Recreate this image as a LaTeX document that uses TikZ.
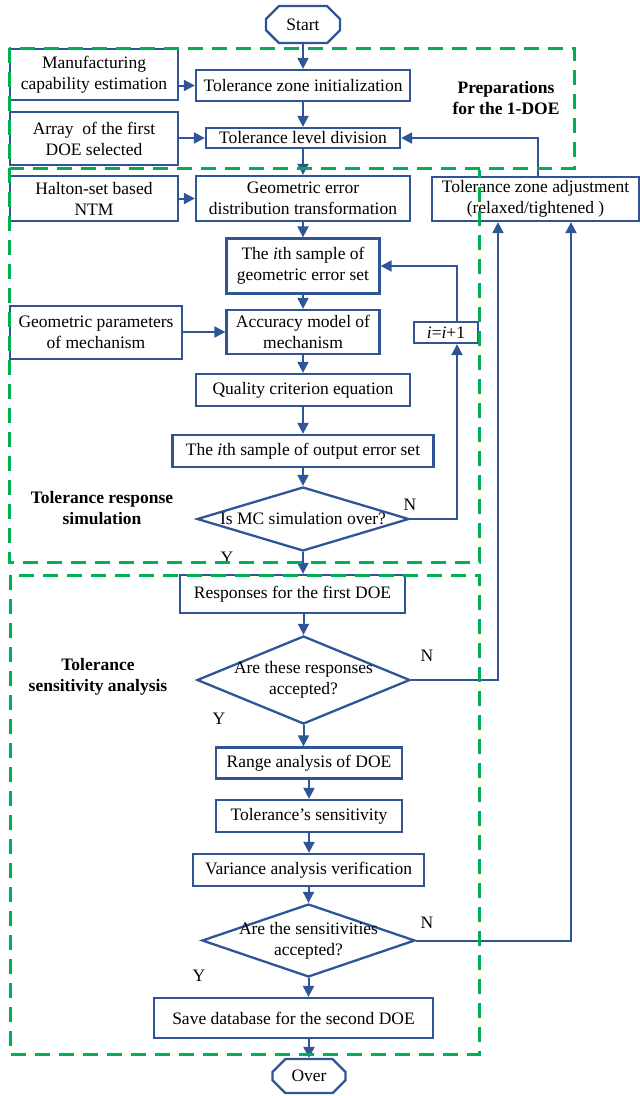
\documentclass[tikz,border=0pt]{standalone}
\usepackage{fontspec}
\setmainfont{Liberation Serif}
\usetikzlibrary{arrows.meta,shapes.geometric,shapes.misc}
\definecolor{fb}{HTML}{2F5597}
\definecolor{gd}{HTML}{00B050}
\begin{document}
\begin{tikzpicture}[x=1pt,y=-1pt,
  font=\fontsize{17.5}{21}\selectfont,
  box/.style={draw=fb, line width=2.3pt, fill=white, inner sep=0pt, align=center, text=black},
  dia/.style={draw=fb, line width=2.3pt, fill=white, diamond, inner sep=0pt},
  term/.style={draw=fb, line width=2.3pt, fill=white, chamfered rectangle,
    chamfered rectangle xsep=7pt, chamfered rectangle ysep=7pt, inner sep=0pt},
  arr/.style={draw=fb, line width=2pt, -{Triangle[length=11pt,width=11pt]}},
  grp/.style={draw=gd, line width=3pt, dash pattern=on 15pt off 9pt},
  lab/.style={font=\fontsize{17.5}{21}\selectfont\bfseries, align=center},
  yn/.style={font=\fontsize{17.5}{21}\selectfont},
]
\useasboundingbox (0,0) rectangle (640,1096);

% ---------- nodes ----------
\node[term, minimum width=74pt, minimum height=37pt] (start) at (303,24.5) {Start};
\node[box, minimum width=168pt, minimum height=51pt] (manu) at (94,74.5) {Manufacturing\\capability estimation};
\node[box, minimum width=214pt, minimum height=31pt] (tzi) at (303,85.5) {Tolerance zone initialization};
\node[box, minimum width=168pt, minimum height=53pt] (array) at (94,138.5) {Array\ \ of the first\\DOE selected};
\node[box, minimum width=194pt, minimum height=20pt] (tld) at (303,138) {Tolerance level division};
\node[box, minimum width=168pt, minimum height=45pt] (halton) at (94,198.5) {Halton-set based\\NTM};
\node[box, minimum width=214pt, minimum height=45pt] (gedt) at (303,198.5) {Geometric error\\distribution transformation};
\node[box, minimum width=207pt, minimum height=44pt] (tza) at (535.5,199) {Tolerance zone adjustment\\(relaxed/tightened )};
\node[box, minimum width=153pt, minimum height=55pt] (sample) at (303,266) {The \textit{i}th sample of\\geometric error set};
\node[box, minimum width=172pt, minimum height=53pt] (gp) at (96,332.5) {Geometric parameters\\of mechanism};
\node[box, minimum width=153pt, minimum height=44pt] (acc) at (303,332) {Accuracy model of\\mechanism};
\node[box, minimum width=64pt, minimum height=21pt] (inc) at (446,332.5) {\textit{i}=\textit{i}+1};
\node[box, minimum width=214pt, minimum height=32pt] (qce) at (303,390) {Quality criterion equation};
\node[box, minimum width=261pt, minimum height=32pt] (out) at (303,451) {The \textit{i}th sample of output error set};
\node[dia, minimum width=212pt, minimum height=64pt,
  label={[yn]center:Is MC simulation over?}] (d1) at (303,519) {};
\node[box, minimum width=225pt, minimum height=38pt] (resp) at (292.5,594) {Responses for the first DOE};
\node[dia, minimum width=213pt, minimum height=88pt,
  label={[yn,align=center]center:Are these responses\\accepted?}] (d2) at (303.5,680) {};
\node[box, minimum width=186pt, minimum height=31pt] (range) at (309,763) {Range analysis of DOE};
\node[box, minimum width=186pt, minimum height=32pt] (sens) at (309,816) {Tolerance’s sensitivity};
\node[box, minimum width=231pt, minimum height=32pt] (var) at (308.5,870) {Variance analysis verification};
\node[dia, minimum width=213pt, minimum height=73pt,
  label={[yn,align=center]center:Are the sensitivities\\accepted?}] (d3) at (308.5,940.5) {};
\node[box, minimum width=279pt, minimum height=40pt] (save) at (293.5,1018) {Save database for the second DOE};
\node[term, minimum width=73pt, minimum height=34pt] (over) at (309,1076) {Over};

% labels
\node[lab] (lprep) at (506,98) {Preparations\\for the 1-DOE};
\node[lab] (lsim) at (102,508) {Tolerance response\\simulation};
\node[lab] (lsens) at (98,677) {Tolerance\\sensitivity analysis};
\node[yn] (n1) at (410,505) {N};
\node[yn] (y1) at (227,558) {Y};
\node[yn] (n2) at (427,656) {N};
\node[yn] (y2) at (219,719) {Y};
\node[yn] (n3) at (427,923) {N};
\node[yn] (y3) at (199,976) {Y};

% ---------- connectors ----------
\draw[arr] (start.south) -- (start.south |- tzi.north);
\draw[arr] (manu.east |- tzi.west) -- (tzi.west);
\draw[arr] (tzi.south) -- (tzi.south |- tld.north);
\draw[arr] (array.east |- tld.west) -- (tld.west);
\draw[arr] (tld.south) -- (tld.south |- gedt.north);
\draw[arr] (halton.east) -- (gedt.west);
\draw[arr] (gedt.south) -- (gedt.south |- sample.north);
\draw[arr] (sample.south) -- (sample.south |- acc.north);
\draw[arr] (gp.east |- acc.west) -- (acc.west);
\draw[arr] (acc.south) -- (acc.south |- qce.north);
\draw[arr] (qce.south) -- (qce.south |- out.north);
\draw[arr] (d1.north |- out.south) -- (d1.north);
\draw[arr] (d1.east) -| ([xshift=11pt]inc.south);
\draw[arr] ([xshift=11pt]inc.north) |- (sample.east);
\draw[arr] (d1.south) -- (d1.south |- resp.north);
\draw[arr] (d2.north |- resp.south) -- (d2.north);
\draw[arr] (d2.east) -| ([xshift=-37.5pt]tza.south);
\draw[arr] (d2.south) -- (d2.south |- range.north);
\draw[arr] (range.south) -- (range.south |- sens.north);
\draw[arr] (sens.south) -- (sens.south |- var.north);
\draw[arr] (d3.north |- var.south) -- (d3.north);
\draw[arr] (d3.east) -| ([xshift=35.5pt]tza.south);
\draw[arr] (d3.south) -- (d3.south |- save.north);
\draw[arr] (over.north |- save.south) -- (over.north);
\draw[arr] ([xshift=2pt]tza.north) |- (tld.east);

% ---------- dashed groups ----------
\draw[grp] (9,48) rectangle (574,168);
\draw[grp] (9,168) -- (9,562) -- (479,562) -- (479,170);
\draw[grp] (10,575) rectangle (479,1054);
\end{tikzpicture}
\end{document}
